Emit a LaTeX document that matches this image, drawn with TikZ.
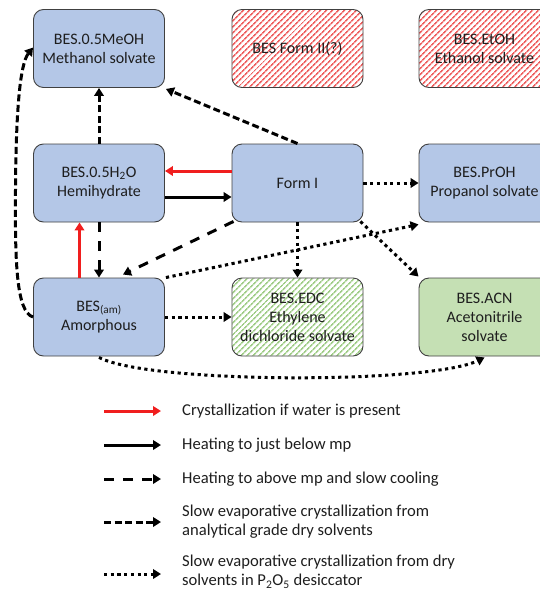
\documentclass[tikz,border=0pt]{standalone}
\usepackage{fontspec}
\setmainfont{Carlito}
\usetikzlibrary{arrows.meta,patterns.meta}
\definecolor{boxblue}{RGB}{180,199,231}
\definecolor{boxgreen}{RGB}{197,224,180}
\definecolor{hatchred}{RGB}{238,95,95}
\definecolor{hatchgreen}{RGB}{160,205,135}
\definecolor{arrred}{RGB}{240,30,30}
\definecolor{txt}{RGB}{30,30,30}
\tikzset{
  box/.style={draw=black!75, line width=0.9pt, rounded corners=10pt,
    minimum width=131pt, minimum height=78pt, align=center, inner sep=0pt,
    text=txt, font=\fontsize{16}{19}\selectfont},
  bluebox/.style={box, fill=boxblue},
  greenbox/.style={box, fill=boxgreen},
  redhatch/.style={box, pattern={Lines[angle=45,distance=4pt,line width=1.7pt]}, pattern color=hatchred},
  greenhatch/.style={box, pattern={Lines[angle=45,distance=4pt,line width=1.7pt]}, pattern color=hatchgreen},
  arr/.style={line width=3pt, -{Triangle[length=8pt,width=9.5pt]}},
  redarr/.style={arr, draw=arrred, line width=3pt},
  solidarr/.style={arr, draw=black},
  longdash/.style={arr, dash pattern=on 10pt off 9pt},
  shortdash/.style={arr, dash pattern=on 7pt off 3.5pt},
  dotarr/.style={arr, dash pattern=on 3.2pt off 3.5pt},
  legtext/.style={anchor=west, align=left, inner sep=0pt, text=txt, font=\fontsize{16.6}{19}\selectfont}
}
\begin{document}
\begin{tikzpicture}[x=1pt,y=-1pt]
\useasboundingbox (0,0) rectangle (539,592);
% boxes
\node[bluebox] (meoh) at (99,48.5) {BES.0.5MeOH\\Methanol solvate};
\node[redhatch] (form2) at (297.5,48.5) {BES Form II(?)};
\node[redhatch] (etoh) at (484.5,48.5) {BES.EtOH\\Ethanol solvate};
\node[bluebox] (hemi) at (99,183) {BES.0.5H\textsubscript{2}O\\Hemihydrate};
\node[bluebox] (form1) at (297.5,183) {Form I};
\node[bluebox] (proh) at (484.5,183) {BES.PrOH\\Propanol solvate};
\node[bluebox] (amor) at (99,317) {BES\textsubscript{(am)}\\Amorphous};
\node[greenhatch] (edc) at (297.5,317) {BES.EDC\\Ethylene\\dichloride solvate};
\node[greenbox] (acn) at (484.5,317) {BES.ACN\\Acetonitrile\\solvate};
% connectors
\draw[redarr] ([yshift=12pt]form1.west) -- ([yshift=12pt]hemi.east);
\draw[solidarr] ([yshift=-14pt]hemi.east) -- ([yshift=-14pt]form1.west);
\draw[redarr] ([xshift=-19.5pt]amor.north) -- ([xshift=-19.5pt]hemi.south);
\draw[shortdash] (hemi.north) -- (meoh.south);
\draw[longdash] (hemi.south) -- (amor.north);
\draw[shortdash] (form1.north) -- ([xshift=1pt,yshift=-1pt]meoh.south east);
\draw[longdash] ([xshift=2pt,yshift=1pt]form1.south west) -- ([xshift=24pt,yshift=3pt]amor.north);
\draw[shortdash] (amor.west) .. controls (16,312) and (15,260) .. (15.5,190)
   .. controls (16,110) and (20,64) .. ([yshift=1pt]meoh.west);
\draw[dotarr] (form1.east) -- (proh.west);
\draw[dotarr] (form1.south) -- (edc.north);
\draw[dotarr] ([xshift=-3pt,yshift=1pt]form1.south east) -- ([yshift=1pt]acn.north west);
\draw[dotarr] ([xshift=1pt]amor.north east) -- ([yshift=-2pt]proh.south west);
\draw[dotarr] (amor.east) -- (edc.west);
\draw[dotarr] ([yshift=-1pt]amor.south) .. controls (150,384) and (430,384) .. ([yshift=-1pt]acn.south);
% legend
\coordinate (l1a) at (104,411); \coordinate (l1b) at (161,411);
\coordinate (l2a) at (104,445); \coordinate (l2b) at (161,445);
\coordinate (l3a) at (104,479); \coordinate (l3b) at (161,479);
\coordinate (l4a) at (104,522); \coordinate (l4b) at (161,522);
\coordinate (l5a) at (104,574); \coordinate (l5b) at (161,574);
\draw[redarr] (l1a) -- (l1b);
\draw[solidarr] (l2a) -- (l2b);
\draw[longdash] (l3a) -- (l3b);
\draw[shortdash] (l4a) -- (l4b);
\draw[dotarr] (l5a) -- (l5b);
\node[legtext] (t1) at (182,411) {Crystallization if water is present};
\node[legtext] (t2) at (182,445) {Heating to just below mp};
\node[legtext] (t3) at (182,479) {Heating to above mp and slow cooling};
\node[legtext] (t4) at (182,522) {Slow evaporative crystallization from\\analytical grade dry solvents};
\node[legtext] (t5) at (182,572) {Slow evaporative crystallization from dry\\solvents in P\textsubscript{2}O\textsubscript{5} desiccator};
\end{tikzpicture}
\end{document}
